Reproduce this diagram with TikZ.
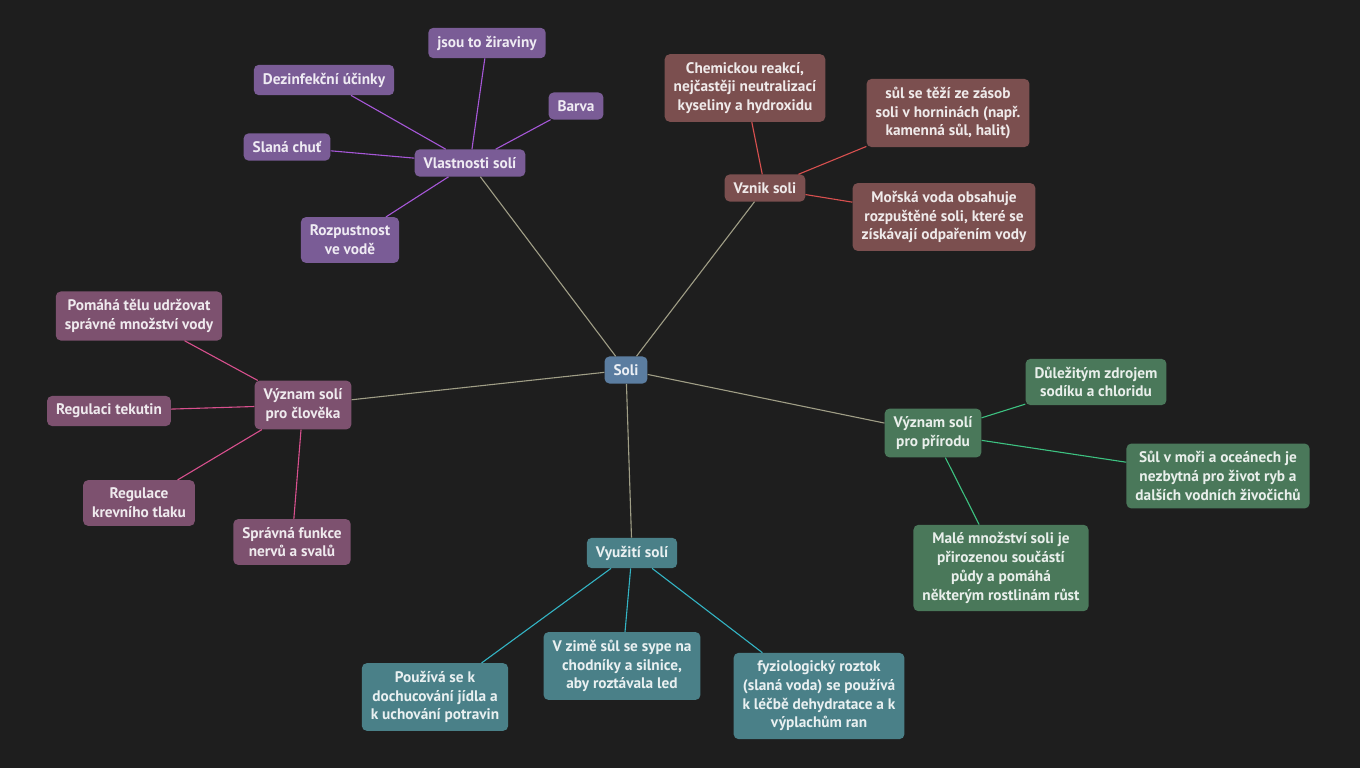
\documentclass[tikz,border=0pt]{standalone}
\usepackage{fontspec}
\setmainfont{PT Sans}
\definecolor{bgdark}{HTML}{1E1E1E}
\definecolor{rootfill}{HTML}{5B7DA0}
\definecolor{vlastfill}{HTML}{7A5C96}
\definecolor{vznikfill}{HTML}{7B4F4F}
\definecolor{clovfill}{HTML}{7D516F}
\definecolor{prirfill}{HTML}{4A785A}
\definecolor{vyufill}{HTML}{4A8088}
\definecolor{rootline}{HTML}{A09E86}
\definecolor{vlastline}{HTML}{A657D8}
\definecolor{vznikline}{HTML}{D8504F}
\definecolor{clovline}{HTML}{D8508E}
\definecolor{prirline}{HTML}{3DC281}
\definecolor{vyuline}{HTML}{33B4C4}
\tikzset{
  box/.style={rounded corners=5pt, inner xsep=9pt, inner ysep=8pt, align=center,
    font=\fontsize{15.3}{18.7}\selectfont\bfseries},
  rootbox/.style={box, fill=rootfill, text=white!88!rootfill},
  vlastbox/.style={box, fill=vlastfill, text=white!88!vlastfill},
  vznikbox/.style={box, fill=vznikfill, text=white!88!vznikfill},
  clovbox/.style={box, fill=clovfill, text=white!88!clovfill},
  prirbox/.style={box, fill=prirfill, text=white!88!prirfill},
  vyubox/.style={box, fill=vyufill, text=white!88!vyufill},
  link/.style={line width=1.1pt}
}
\begin{document}
\begin{tikzpicture}[x=1pt, y=-1pt]
  \fill[bgdark] (0,0) rectangle (1360,768);
  \useasboundingbox (0,0) rectangle (1360,768);

  % Root
  \node[rootbox] (soli) at (626,370) {Soli};

  % Vlastnosti soli
  \node[vlastbox] (vlast) at (470,163) {Vlastnosti solí};
  \node[vlastbox] (ziravina) at (487,43) {jsou to žiraviny};
  \node[vlastbox] (dezinf) at (324,80) {Dezinfekční účinky};
  \node[vlastbox] (barva) at (576,106) {Barva};
  \node[vlastbox] (chut) at (287,147) {Slaná chuť};
  \node[vlastbox] (rozpust) at (350,240) {Rozpustnost\\ve vodě};

  % Vznik soli
  \node[vznikbox] (vznik) at (765,188) {Vznik soli};
  \node[vznikbox] (reakce) at (745,88) {Chemickou reakcí,\\nejčastěji neutralizací\\kyseliny a hydroxidu};
  \node[vznikbox] (tezba) at (948,113) {sůl se těží ze zásob\\soli v horninách (např.\\kamenná sůl, halit)};
  \node[vznikbox] (more) at (944,217) {Mořská voda obsahuje\\rozpuštěné soli, které se\\získávají odpařením vody};

  % Vyznam pro cloveka
  \node[clovbox] (clov) at (303,405) {Význam solí\\pro člověka};
  \node[clovbox] (voda) at (139,316) {Pomáhá tělu udržovat\\správné množství vody};
  \node[clovbox] (tekut) at (109,411) {Regulaci tekutin};
  \node[clovbox] (tlak) at (139,503) {Regulace\\krevního tlaku};
  \node[clovbox] (nervy) at (292,542) {Správná funkce\\nervů a svalů};

  % Vyznam pro prirodu
  \node[prirbox] (prir) at (933,433) {Význam solí\\pro přírodu};
  \node[prirbox] (zdroj) at (1096,382) {Důležitým zdrojem\\sodíku a chloridu};
  \node[prirbox] (ryby) at (1218,476) {Sůl v moři a oceánech je\\nezbytná pro život ryb a\\dalších vodních živočichů};
  \node[prirbox] (puda) at (1001,568) {Malé množství soli je\\přirozenou součástí\\půdy a pomáhá\\některým rostlinám růst};

  % Vyuziti soli
  \node[vyubox] (vyuz) at (632,553) {Využití solí};
  \node[vyubox] (jidlo) at (435,697) {Používá se k\\dochucování jídla a\\k uchování potravin};
  \node[vyubox] (zima) at (622,666) {V zimě sůl se sype na\\chodníky a silnice,\\aby roztávala led};
  \node[vyubox] (roztok) at (819,696) {fyziologický roztok\\(slaná voda) se používá\\k léčbě dehydratace a k\\výplachům ran};

  % Links
  \foreach \b in {vlast, vznik, clov, prir, vyuz}
    \draw[link, rootline] (soli) -- (\b);
  \foreach \c in {ziravina, dezinf, barva, chut, rozpust}
    \draw[link, vlastline] (vlast) -- (\c);
  \foreach \c in {reakce, tezba, more}
    \draw[link, vznikline] (vznik) -- (\c);
  \foreach \c in {voda, tekut, tlak, nervy}
    \draw[link, clovline] (clov) -- (\c);
  \foreach \c in {zdroj, ryby, puda}
    \draw[link, prirline] (prir) -- (\c);
  \foreach \c in {jidlo, zima, roztok}
    \draw[link, vyuline] (vyuz) -- (\c);
\end{tikzpicture}
\end{document}
